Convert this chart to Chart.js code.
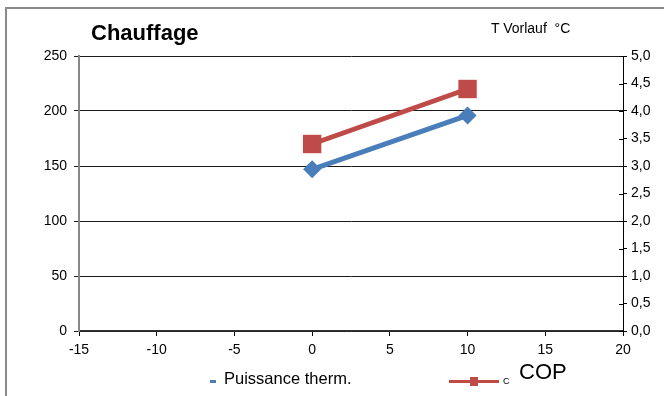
<!DOCTYPE html>
<html>
<head>
<meta charset="utf-8">
<script src="https://cdn.jsdelivr.net/npm/chart.js@4"></script>
<style>
  html, body { margin: 0; padding: 0; background: #fff; }
  #wrap { position: relative; width: 664px; height: 396px; overflow: hidden; font-family: "Liberation Sans", Arial, sans-serif; }
  #frame { position: absolute; left: 5px; top: 7px; width: 700px; height: 500px; border-top: 2px solid #8a8a8a; border-left: 2px solid #8a8a8a; }
  canvas { position: absolute; left: 0; top: 0; }
  .txt { position: absolute; white-space: nowrap; color: #000; }
  #title { left: 91px; top: 20px; font-size: 22px; font-weight: bold; }
  #unit { left: 491px; top: 20px; font-size: 14px; }
  .legline { position: absolute; height: 3px; }
</style>
</head>
<body>
<div id="wrap">
  <div id="frame"></div>
  <canvas id="chart" width="664" height="396"></canvas>
  <div class="txt" id="title">Chauffage</div>
  <div class="txt" id="unit">T Vorlauf&nbsp; °C</div>
  <div class="legline" style="left:210px; top:380px; width:6px; background:#4a7ebb;"></div>
  <div class="txt" style="left:224px; top:369px; font-size:16.5px;">Puissance therm.</div>
  <div class="legline" style="left:449px; top:380px; width:50px; background:#be4b48;"></div>
  <div class="legline" style="left:470px; top:377px; width:8px; height:9px; background:#be4b48;"></div>
  <div class="txt" style="left:503px; top:376px; font-size:9px;">C</div>
  <div class="txt" style="left:519px; top:359px; font-size:22px;">COP</div>
</div>
<script>
// data
const temperatures = [0, 10];
const puissance = [147, 196];
const cop = [3.4, 4.4];
const leftTicks = [0, 50, 100, 150, 200, 250];
const rightTicks = [0, 0.5, 1, 1.5, 2, 2.5, 3, 3.5, 4, 4.5, 5];
const xTicks = [-15, -10, -5, 0, 5, 10, 15, 20];

const tickFont = { family: '"Liberation Sans", Arial, sans-serif', size: 14 };

// right axis ticks cross the axis line on both sides
const crossTicks = {
    id: 'crossTicks',
    afterDraw(chart) {
        const axis = chart.scales.y2;
        const c = chart.ctx;
        c.save();
        c.strokeStyle = '#000';
        c.lineWidth = 1;
        axis.ticks.forEach(t => {
            const py = Math.round(axis.getPixelForValue(t.value)) + 0.5;
            c.beginPath();
            c.moveTo(axis.left - 4, py);
            c.lineTo(axis.left, py);
            c.stroke();
        });
        c.restore();
    }
};

const ctx = document.getElementById('chart').getContext('2d');

new Chart(ctx, {
    type: 'line',
    data: {
        datasets: [
            {
                label: 'Puissance therm.',
                data: temperatures.map((t, i) => ({ x: t, y: puissance[i] })),
                borderColor: '#4a7ebb',
                backgroundColor: '#4a7ebb',
                borderWidth: 5,
                pointStyle: 'rectRot',
                pointRadius: 9,
                pointBorderWidth: 0,
                yAxisID: 'y'
            },
            {
                label: 'COP',
                data: temperatures.map((t, i) => ({ x: t, y: cop[i] })),
                borderColor: '#be4b48',
                backgroundColor: '#be4b48',
                borderWidth: 5,
                pointStyle: 'rect',
                pointRadius: 13,
                pointBorderWidth: 0,
                yAxisID: 'y2'
            }
        ]
    },
    options: {
        responsive: false,
        animation: false,
        layout: { padding: { top: 56, left: 0, right: 0, bottom: 0 } },
        plugins: {
            legend: { display: false },
            title: { display: false },
            tooltip: { enabled: false }
        },
        scales: {
            x: {
                type: 'linear',
                min: -15,
                max: 20,
                afterBuildTicks: axis => { axis.ticks = xTicks.map(v => ({ value: v })); },
                afterFit: axis => { axis.height = 65; },
                ticks: { font: tickFont, color: '#000', padding: 6, maxRotation: 0 },
                grid: { drawOnChartArea: false, tickLength: 5, color: '#000' },
                border: { color: '#333', width: 1.5 }
            },
            y: {
                position: 'left',
                min: 0,
                max: 250,
                afterBuildTicks: axis => { axis.ticks = leftTicks.map(v => ({ value: v })); },
                afterFit: axis => { axis.width = 79; },
                ticks: { font: tickFont, color: '#000', padding: 7 },
                grid: { color: '#1a1a1a', tickLength: 5, lineWidth: 1 },
                border: { color: '#888', width: 2 }
            },
            y2: {
                position: 'right',
                min: 0,
                max: 5,
                afterBuildTicks: axis => { axis.ticks = rightTicks.map(v => ({ value: v })); },
                afterFit: axis => { axis.width = 41; },
                ticks: {
                    font: tickFont,
                    color: '#000',
                    padding: 4,
                    callback: v => v.toFixed(1).replace('.', ',')
                },
                grid: { drawOnChartArea: false, tickLength: 4, color: '#000' },
                border: { color: '#000', width: 1 }
            }
        }
    },
    plugins: [crossTicks]
});
</script>
</body>
</html>
